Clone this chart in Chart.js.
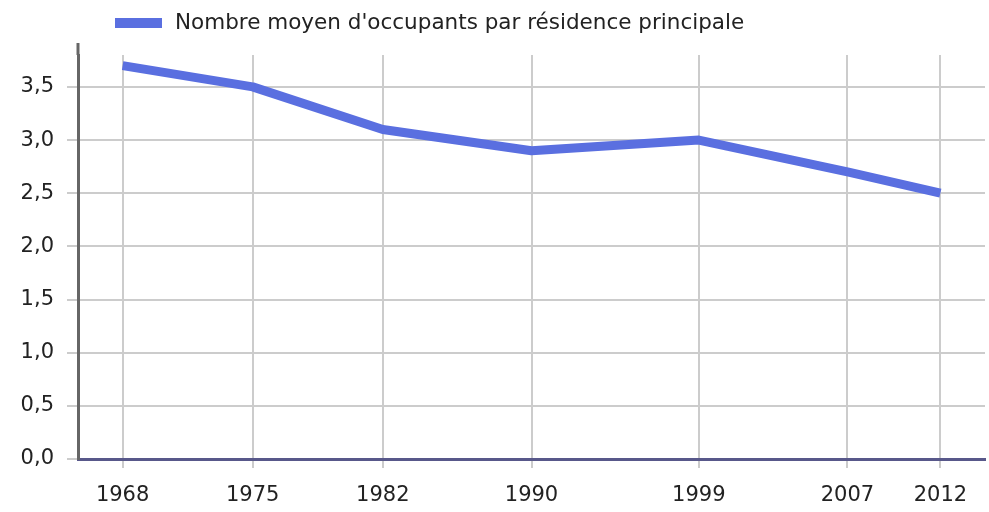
<!DOCTYPE html>
<html>
<head>
<meta charset="utf-8">
<script src="https://cdn.jsdelivr.net/npm/chart.js@4.4.1/dist/chart.umd.min.js"></script>
<style>
  html, body { margin: 0; padding: 0; background: #fff; }
  #wrap { width: 989px; height: 512px; }
</style>
</head>
<body>
<div id="wrap"><canvas id="chart-occ"></canvas></div>
<script>
  // données
  var ANNEES = [1968, 1975, 1982, 1990, 1999, 2007, 2012];
  var OCCUPANTS = [3.7, 3.5, 3.1, 2.9, 3.0, 2.7, 2.5];
  var Y_TICKS = [0, 0.5, 1, 1.5, 2, 2.5, 3, 3.5];
  var LIBELLE = "Nombre moyen d'occupants par résidence principale";

  var BLEU = '#5a6fe0';
  var POLICE = 'DejaVu Sans, Verdana, sans-serif';

  // légende dessinée à la main (alignée à gauche, au-dessus du graphe)
  var legendeGauche = {
    id: 'legendeGauche',
    afterDraw: function (chart) {
      var c = chart.ctx;
      var ds = chart.data.datasets[0];
      c.save();
      c.fillStyle = ds.borderColor;
      c.fillRect(115, 18, 47, 10);
      c.fillStyle = '#222';
      c.font = '21.5px ' + POLICE;
      c.textBaseline = 'middle';
      c.fillText(ds.label, 175, 23);
      // l'axe vertical dépasse un peu le haut de la zone
      var a = chart.chartArea;
      c.strokeStyle = '#666';
      c.lineWidth = 3;
      c.beginPath();
      c.moveTo(a.left, 43);
      c.lineTo(a.left, a.top);
      c.stroke();
      c.restore();
    }
  };

  new Chart(document.getElementById('chart-occ'), {
    type: 'line',
    data: {
      datasets: [
        {
          label: LIBELLE,
          data: ANNEES.map(function (a, i) {
            return { x: a, y: OCCUPANTS[i] };
          }),
          borderColor: BLEU,
          backgroundColor: BLEU,
          borderWidth: 9,
          borderJoinStyle: 'round',
          pointRadius: 0,
          tension: 0,
          fill: false
        }
      ]
    },
    options: {
      responsive: true,
      maintainAspectRatio: false,
      animation: false,
      layout: { padding: { top: 55, left: 18, right: 4, bottom: 0 } },
      plugins: { legend: { display: false }, tooltip: { enabled: false } },
      scales: {
        x: {
          type: 'linear',
          min: 1965.6,
          max: 2014.4,
          afterBuildTicks: function (s) {
            s.ticks = ANNEES.map(function (v) {
              return { value: v };
            });
          },
          afterFit: function (s) {
            s.height = 53;
          },
          grid: { color: '#cccccc', lineWidth: 2, tickLength: 9 },
          border: { color: '#58588a', width: 3 },
          ticks: {
            color: '#222',
            padding: 15,
            maxRotation: 0,
            font: { family: POLICE, size: 21 },
            callback: function (v) {
              return String(v);
            }
          }
        },
        y: {
          min: 0,
          max: 3.8,
          afterBuildTicks: function (s) {
            s.ticks = Y_TICKS.map(function (v) {
              return { value: v };
            });
          },
          afterFit: function (s) {
            s.width = 60;
          },
          grid: { color: '#cccccc', lineWidth: 2, tickLength: 11 },
          border: { color: '#666666', width: 3 },
          ticks: {
            color: '#222',
            padding: 13,
            font: { family: POLICE, size: 21 },
            callback: function (v) {
              return v.toFixed(1).replace('.', ',');
            }
          }
        }
      }
    },
    plugins: [legendeGauche]
  });
</script>
</body>
</html>
